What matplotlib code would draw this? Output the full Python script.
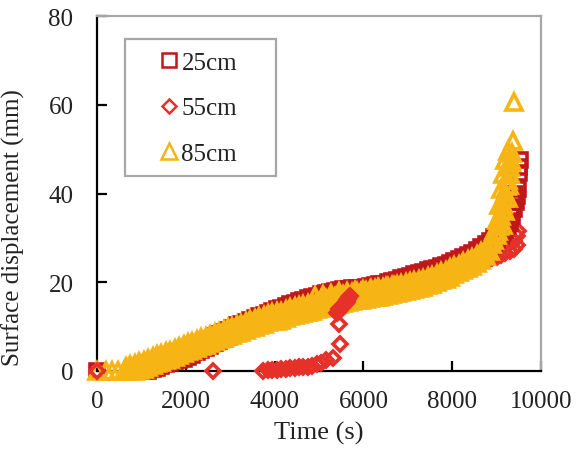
import matplotlib
matplotlib.use("Agg")
import matplotlib.pyplot as plt
from matplotlib.patches import Rectangle
from matplotlib.lines import Line2D

plt.rcParams['font.family'] = ['Liberation Serif', 'DejaVu Serif']

# ---------------- data ----------------
labels = ["25cm", "55cm", "85cm"]

# 25cm : band centre readings
t25 = [0, 900, 1000, 1100, 1200, 1300, 1400, 1500, 1600, 1700, 1800, 1900, 2000,
       2100, 2200, 2300, 2400, 2500, 2600, 2700, 2800, 2900, 3000, 3100, 3200,
       3300, 3400, 3500, 3600, 3700, 3800, 3900, 4000, 4100, 4200, 4300, 4400,
       4500, 4600, 4700, 4800, 4900, 5000, 5100, 5200, 5300, 5400, 5500, 5600,
       5700, 5800, 5900, 6000, 6100, 6200, 6300, 6400, 6500, 6600, 6700, 6800,
       6900, 7000, 7100, 7200, 7300, 7400, 7500, 7600, 7700, 7800, 7900, 8000,
       8100, 8200, 8300, 8400, 8500, 8600, 8700, 8800, 8900, 9000, 9100, 9200,
       9300, 9350, 9400, 9430, 9460, 9480, 9500, 9510, 9520]
d25 = [0.0, 0.0, 0.4, 0.7, 1.0, 1.3, 1.7, 2.1, 2.4, 2.8, 3.1, 3.4, 3.8,
       4.2, 4.7, 5.2, 5.7, 6.2, 6.7, 7.2, 7.7, 8.2, 8.7, 9.2, 9.7,
       10.1, 10.5, 10.9, 11.3, 11.7, 12.1, 12.5, 12.9, 13.3, 13.7, 14.1, 14.4,
       14.8, 15.1, 15.4, 15.7, 16.0, 16.3, 16.6, 16.9, 17.1, 17.3, 17.5, 17.6,
       17.7, 17.8, 17.9, 18.0, 18.2, 18.4, 18.6, 18.8, 19.0, 19.3, 19.6, 19.9,
       20.2, 20.5, 20.8, 21.1, 21.4, 21.7, 22.0, 22.3, 22.6, 23.0, 23.4, 23.8,
       24.2, 24.6, 25.1, 25.6, 26.2, 26.8, 27.5, 28.2, 28.9, 29.6, 30.5, 31.8,
       33.4, 35.0, 36.5, 38.0, 39.5, 41.0, 44.6, 46.0, 47.6]
# 25cm : upper / lower edge readings of the band
t25e = [950, 1050, 1150, 1250, 1350, 1450, 1550, 1650, 1750, 1850, 1950, 2050,
        2150, 2250, 2350, 2450, 2550, 2650, 2750, 2850, 2950, 3050, 3150, 3250,
        3350, 3450, 3550, 3650, 3750, 3850, 3950, 4050, 4150, 4250, 4350, 4450,
        4550, 4650, 4750, 4850, 4950, 5050, 5150, 5250, 5350, 5450, 5550, 5650,
        5750, 5850, 5950, 6050, 6150, 6250, 6350, 6450, 6550, 6650, 6750, 6850,
        6950, 7050, 7150, 7250, 7350, 7450, 7550, 7650, 7750, 7850, 7950, 8050,
        8150, 8250, 8350, 8450, 8550, 8650, 8750, 8850, 8950, 9150, 9250, 9330,
        9380, 9420]
d25a = [1.0, 0.0, 1.7, 0.4, 2.3, 1.1, 3.1, 1.8, 3.8, 2.5, 4.4, 3.2,
        5.3, 4.2, 6.3, 5.2, 7.3, 6.2, 8.3, 7.2, 9.3, 8.2, 10.3, 9.1,
        11.1, 9.9, 11.9, 10.7, 12.7, 11.5, 13.5, 12.3, 14.3, 13.1, 15.0, 13.8,
        15.8, 14.5, 16.4, 15.1, 17.0, 15.7, 17.6, 16.2, 18.0, 16.6, 18.4, 16.9,
        18.6, 17.1, 18.8, 17.3, 19.1, 17.7, 19.5, 18.1, 20.0, 18.7, 20.6, 19.3,
        21.2, 19.9, 21.8, 20.5, 22.4, 21.1, 23.0, 21.7, 23.6, 22.4, 24.4, 23.2,
        25.2, 24.1, 26.2, 25.1, 27.3, 26.4, 28.7, 27.8, 30.1, 32.0, 33.5, 36.5,
        38.5, 40.0]
d25b = [0.0, 1.4, 0.1, 2.0, 0.7, 2.7, 1.5, 3.4, 2.2, 4.1, 2.8, 4.8,
        3.7, 5.8, 4.7, 6.8, 5.7, 7.8, 6.7, 8.8, 7.7, 9.8, 8.7, 10.7,
        9.5, 11.5, 10.3, 12.3, 11.1, 13.1, 11.9, 13.9, 12.7, 14.7, 13.5, 15.4,
        14.2, 16.1, 14.8, 16.7, 15.4, 17.3, 16.0, 17.8, 16.4, 18.2, 16.8, 18.5,
        17.0, 18.7, 17.2, 18.9, 17.5, 19.3, 17.9, 19.7, 18.4, 20.3, 19.0, 20.9,
        19.6, 21.5, 20.2, 22.1, 20.8, 22.7, 21.4, 23.3, 22.0, 24.0, 22.8, 24.8,
        23.6, 25.7, 24.6, 26.7, 25.7, 28.0, 27.1, 29.4, 28.5, 31.0, 32.6, 35.0,
        37.0, 39.0]

# 55cm : early part (near zero, sudden jump and blob)
t55a = [0, 2610, 3740, 3850, 3950, 4050, 4150, 4250, 4350, 4450, 4550, 4650,
        4750, 4850, 4950, 5050, 5150, 5320, 5470, 5450, 5400, 5420, 5440, 5460,
        5480, 5500, 5520, 5540, 5560, 5580, 5600, 5620, 5640, 5660, 5680, 5700]
d55a = [0.0, 0.0, 0.1, 0.2, 0.3, 0.2, 0.4, 0.5, 0.6, 0.6, 0.8, 0.9,
        1.0, 1.2, 1.5, 1.9, 2.4, 3.0, 6.0, 10.6, 13.0, 13.4, 13.6, 13.9,
        14.1, 14.3, 14.5, 14.7, 14.9, 15.1, 15.3, 15.6, 15.9, 16.2, 16.6, 17.0]
# 55cm : later part (inside the band, then right of the final rise)
t55b = [5750, 5800, 5900, 6000, 6100, 6200, 6300, 6400, 6500, 6600, 6700, 6800,
        6900, 7000, 7100, 7200, 7300, 7400, 7500, 7600, 7700, 7800, 7900, 8000,
        8100, 8200, 8300, 8400, 8500, 8600, 8700, 8800, 8900, 9000, 9100, 9200,
        9300, 9400, 9450, 9480,
        8700, 8800, 8900, 9000, 9100, 9200, 9300, 9400, 9450]
d55b = [17.2, 17.4, 17.6, 17.8, 18.0, 18.1, 18.3, 18.5, 18.7, 18.9, 19.1, 19.3,
        19.5, 19.7, 20.0, 20.3, 20.6, 20.9, 21.2, 21.5, 21.8, 22.1, 22.5, 22.9,
        23.3, 23.7, 24.1, 24.5, 24.9, 25.3, 25.8, 26.3, 26.8, 27.3, 27.8, 28.3,
        28.8, 29.4, 30.5, 31.5,
        24.5, 25.0, 25.4, 25.8, 26.2, 26.6, 27.0, 27.6, 28.5]

# 85cm : band centre readings
t85 = [0, 200, 340, 475, 600, 700, 800, 900, 1000, 1100, 1200, 1300, 1400, 1500,
       1600, 1700, 1800, 1900, 2000, 2100, 2200, 2300, 2400, 2500, 2600, 2700,
       2800, 2900, 3000, 3100, 3200, 3300, 3400, 3500, 3600, 3700, 3800, 3900,
       4000, 4100, 4200, 4300, 4400, 4500, 4600, 4700, 4800, 4900, 5000, 5100,
       5200, 5300, 5400, 5500, 5600, 5700, 5800, 5900, 6000, 6100, 6200, 6300,
       6400, 6500, 6600, 6700, 6800, 6900, 7000, 7100, 7200, 7300, 7400, 7500,
       7600, 7700, 7800, 7900, 8000, 8100, 8200, 8300, 8400, 8500, 8600, 8700,
       8800, 8900, 8950, 9000, 9025, 9050, 9075, 9100, 9125, 9150, 9175, 9200,
       9225, 9250, 9275, 9300, 9325, 9350, 9370, 9400]
d85 = [0.0, 0.0, 0.0, 0.0, 0.0, 0.3, 0.6, 0.9, 1.2, 1.6, 2.0, 2.4, 2.8, 3.1,
       3.5, 3.9, 4.3, 4.7, 5.1, 5.5, 5.9, 6.3, 6.6, 7.0, 7.4, 7.8,
       8.1, 8.5, 8.9, 9.2, 9.6, 9.9, 10.3, 10.6, 11.0, 11.3, 11.7, 12.0,
       12.1, 12.3, 12.6, 13.0, 13.3, 13.6, 13.7, 14.0, 14.3, 14.6, 14.9, 15.2,
       15.4, 15.7, 15.9, 16.1, 16.3, 16.5, 16.7, 16.9, 17.0, 17.2, 17.4, 17.5,
       17.7, 17.8, 18.2, 18.4, 18.6, 18.8, 19.0, 19.2, 19.5, 19.7, 20.0, 20.3,
       20.8, 21.1, 21.5, 21.9, 22.5, 22.9, 23.3, 23.8, 24.3, 24.8, 25.5, 26.3,
       27.3, 28.6, 29.5, 30.6, 31.5, 32.6, 33.8, 35.0, 36.3, 37.6, 38.9, 40.2,
       41.6, 43.0, 44.4, 45.9, 47.5, 49.2, 51.8, 60.6]
# 85cm : upper / lower edge readings of the band
t85e = [650, 750, 850, 950, 1050, 1150, 1250, 1350, 1450, 1550, 1650, 1750,
        1850, 1950, 2050, 2150, 2250, 2350, 2450, 2550, 2650, 2750, 2850, 2950,
        3050, 3150, 3250, 3350, 3450, 3550, 3650, 3750, 3850, 3950, 4050, 4150,
        4250, 4350, 4450, 4550, 4650, 4750, 4850, 4950, 5050, 5150, 5250, 5350,
        5450, 5550, 5650, 5750, 5850, 5950, 6050, 6150, 6250, 6350, 6450, 6550,
        6650, 6750, 6850, 6950, 7050, 7150, 7250, 7350, 7450, 7550, 7650, 7750,
        7850, 7950, 8050, 8150, 8250, 8350, 8450, 8550, 8650, 8750, 8850]
d85a = [1.0, 0.0, 1.6, 0.2, 2.3, 0.9, 3.1, 1.7, 3.9, 2.4, 4.6, 3.2,
        5.4, 4.0, 6.2, 4.8, 7.0, 5.6, 7.7, 6.3, 8.5, 7.1, 9.2, 7.8,
        10.0, 8.5, 10.7, 9.2, 11.4, 9.9, 12.1, 10.6, 12.8, 11.3, 13.2, 11.6,
        13.7, 12.3, 14.4, 12.8, 14.8, 13.3, 15.4, 13.9, 16.0, 14.4, 16.5, 14.9,
        16.9, 15.3, 17.3, 15.7, 17.7, 16.1, 18.0, 16.4, 18.4, 16.7, 18.7, 17.1,
        19.2, 17.6, 19.6, 18.0, 20.0, 18.5, 20.5, 19.0, 21.1, 19.6, 21.9, 20.4,
        22.6, 21.2, 23.6, 22.2, 24.5, 23.2, 25.5, 24.3, 26.8, 25.9, 28.9]
d85b = [0.0, 1.4, 0.0, 2.0, 0.5, 2.7, 1.3, 3.5, 2.1, 4.2, 2.8, 5.0,
        3.6, 5.8, 4.4, 6.6, 5.2, 7.4, 5.9, 8.1, 6.7, 8.9, 7.4, 9.6,
        8.2, 10.3, 8.9, 11.0, 9.6, 11.7, 10.3, 12.4, 11.0, 13.0, 11.3, 13.4,
        11.9, 14.1, 12.6, 14.6, 13.0, 15.1, 13.6, 15.7, 14.2, 16.2, 14.7, 16.7,
        15.1, 17.1, 15.5, 17.5, 15.9, 17.9, 16.2, 18.2, 16.6, 18.5, 16.9, 18.9,
        17.4, 19.4, 17.8, 19.8, 18.2, 20.3, 18.7, 20.8, 19.3, 21.5, 20.1, 22.2,
        20.8, 23.1, 21.8, 24.0, 22.7, 25.0, 23.7, 26.1, 25.0, 27.7, 27.1]
# 85cm : steep final rise (left / right side of the rising band) and sparse upper marks
t85s = [9150, 9200, 9250, 9280, 9310, 9330, 8950, 9000, 9050, 9100, 9150, 9200, 9250,
        4900, 5080, 5260, 5440, 5620, 5800, 5980, 6160, 6340, 6520, 6700]
d85s = [33.0, 36.0, 39.0, 42.0, 44.5, 47.0, 31.5, 34.0, 37.5, 41.0, 44.5, 47.5, 49.5,
        16.8, 17.1, 17.4, 17.7, 17.9, 18.1, 18.3, 18.5, 18.7, 18.9, 19.1]

colors = ["#C0171C", "#E5312A", "#F6B514"]
markers = ["s", "D", "^"]
msizes = [9.5, 7.0, 11]

# ---------------- figure ----------------
W, H = 583, 456
fig = plt.figure(figsize=(W / 100, H / 100), dpi=100)
ax = fig.add_axes([97 / W, 1 - 372 / H, (541 - 97) / W, (372 - 17) / H])

# (series index, t, d, zorder)
layers = [(0, t25 + t25e + t25e, d25 + d25a + d25b, 3.2),
          (1, t55b, d55b, 3.0),
          (2, t85 + t85e + t85e + t85s, d85 + d85a + d85b + d85s, 3.4),
          (1, t55a, d55a, 3.6)]
for i, tt, dd, z in layers:
    ax.plot(tt, dd, linestyle="none", marker=markers[i], markersize=msizes[i],
            markerfacecolor="none", markeredgecolor=colors[i],
            markeredgewidth=2.6, clip_on=False, zorder=z)

handles = [Line2D([], [], linestyle="none", marker=m, markersize=ms,
                  markerfacecolor="none", markeredgecolor=c,
                  markeredgewidth=1.8, label=lab)
           for m, ms, c, lab in zip(markers, msizes, colors, labels)]

ax.set_xlim(0, 10000)
ax.set_ylim(0, 80)
ax.set_xticks([0, 2000, 4000, 6000, 8000, 10000])
ax.set_yticks([0, 20, 40, 60, 80])

for s in ["left", "bottom"]:
    ax.spines[s].set_color("black")
    ax.spines[s].set_linewidth(1.6)
    ax.spines[s].set_zorder(2.5)
for s in ["top", "right"]:
    ax.spines[s].set_color("#A6A6A6")
    ax.spines[s].set_linewidth(1.6)

ax.tick_params(axis="both", direction="in", length=7, width=1.6,
               labelsize=18, colors="black")
ax.tick_params(axis="y", pad=17)
ax.tick_params(axis="x", pad=14)
for lbl in ax.get_xticklabels() + ax.get_yticklabels():
    lbl.set_color("#222222")

ax.set_xlabel("Time (s)", fontsize=19, color="#222222", labelpad=6)
ax.set_ylabel("Surface displacement (mm)", fontsize=18, color="#222222")
ax.yaxis.set_label_coords(25 / W, 0.5, transform=fig.transFigure)

# legend frame + entries
fig.patches.append(Rectangle((125 / W, 1 - 177 / H), (276 - 125) / W, (177 - 40) / H,
                             transform=fig.transFigure, facecolor="white",
                             edgecolor="#A6A6A6", linewidth=1.6, zorder=5))
leg = fig.legend(handles=handles, loc="center left",
                 bbox_to_anchor=(159 / W, 1 - 109 / H), frameon=False,
                 fontsize=18, borderpad=0, handlelength=0.8,
                 handletextpad=0.1, labelspacing=0.93, borderaxespad=0)
leg.set_zorder(6)
for txt in leg.get_texts():
    txt.set_color("#222222")

fig.savefig("out.png", dpi=100)
